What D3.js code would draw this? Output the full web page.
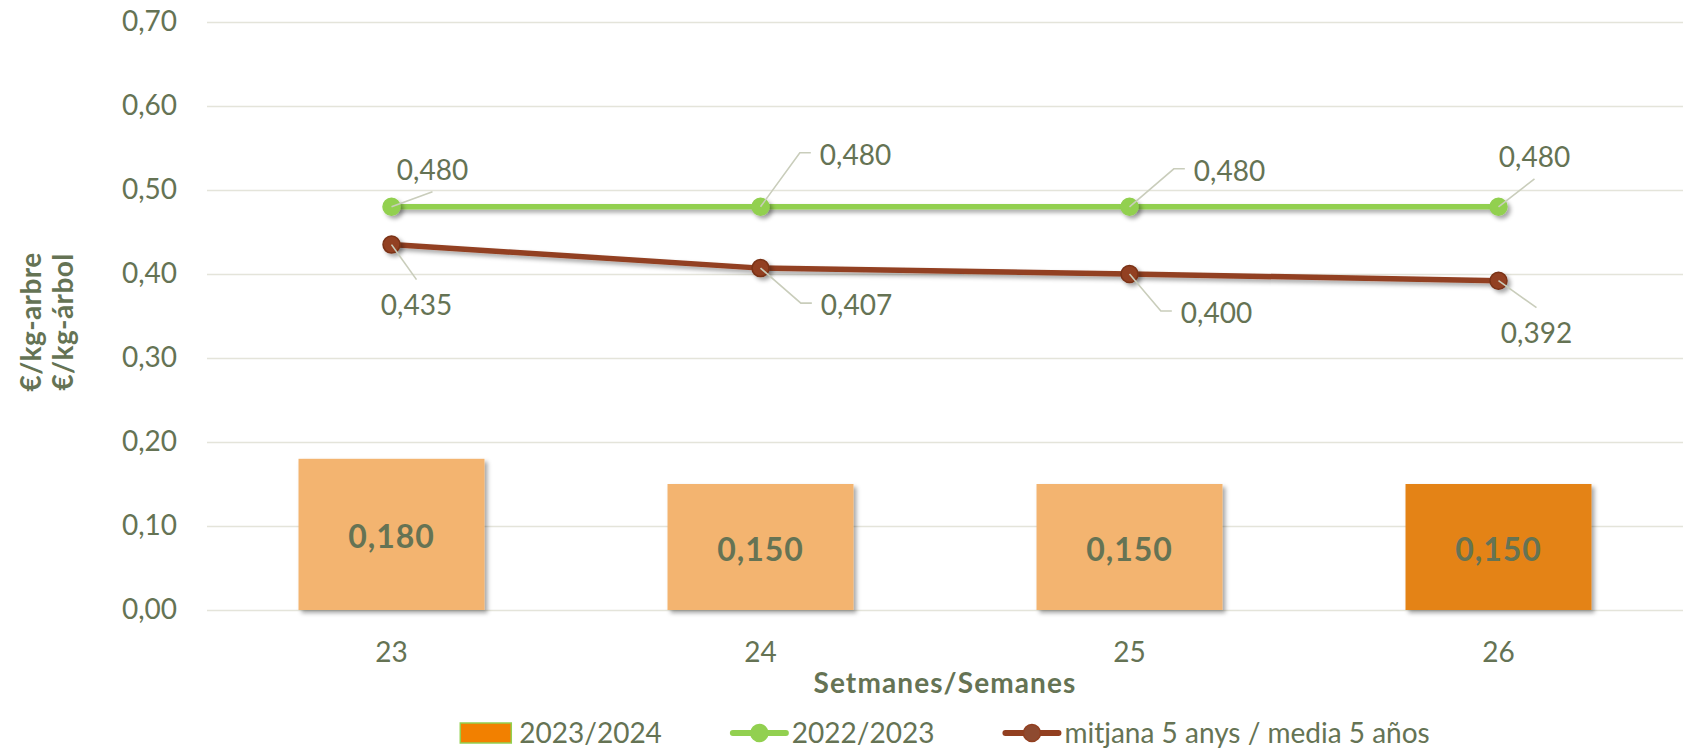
<!DOCTYPE html>
<html lang="ca">
<head>
  <meta charset="utf-8" />
  <title>Preu €/kg-arbre · setmanes 23-26</title>
  <style>
    html,body{margin:0;padding:0;background:#fff;}
    svg{display:block;font-family:Lato,"Open Sans",sans-serif;}
    .txt{fill:#657354;}
    .grid line{stroke:#E4E4DA;stroke-width:1.5;}
  </style>
</head>
<body>
  <svg id="chart" width="1688" height="751"></svg>

  <script src="https://d3js.org/d3.v7.min.js"></script>
  <script>
    // ————— DATA —————
    const weeks       = ['23','24','25','26'];
    const season2324  = [0.180, 0.150, 0.150, 0.150];   // bars
    const season2223  = [0.480, 0.480, 0.480, 0.480];   // green line
    const avg5years   = [0.435, 0.407, 0.400, 0.392];   // brown line
    const yTicks      = [0, 0.1, 0.2, 0.3, 0.4, 0.5, 0.6, 0.7];
    const legendNames = ['2023/2024', '2022/2023', 'mitjana 5 anys / media 5 años'];

    // label placement (offset of label centre from its point), layout only
    const greenLabelOff = [[41,-37],[95,-52],[100,-36],[36,-50]];
    const brownLabelOff = [[25,60],[96,37],[87,39],[38,52]];

    // ————— SETUP —————
    const W=1688, H=751;
    const m={top:22,right:5,bottom:141,left:207};
    const svg=d3.select('#chart');
    const fmt=(v,d)=>v.toFixed(d).replace('.',',');

    // shadow in user space so flat (zero-height) paths keep it
    const defs=svg.append('defs');
    const sh=defs.append('filter').attr('id','shadow').attr('filterUnits','userSpaceOnUse')
      .attr('x',0).attr('y',0).attr('width',W).attr('height',H);
    sh.append('feDropShadow').attr('dx',3).attr('dy',3).attr('stdDeviation',2.2).attr('flood-color','#000').attr('flood-opacity',.35);

    const x=d3.scaleBand().domain(weeks).range([m.left,W-m.right]).paddingInner(0.496).paddingOuter(0.248);
    const y=d3.scaleLinear().domain([0,0.7]).range([H-m.bottom,m.top]);
    const cx=w=>x(w)+x.bandwidth()/2;

    // gridlines + y labels
    const yAx=svg.append('g').attr('class','grid').attr('transform',`translate(${m.left},0)`)
      .call(d3.axisLeft(y).tickValues(yTicks).tickFormat(d=>fmt(d,2)).tickSizeInner(-(W-m.right-m.left)).tickSizeOuter(0).tickPadding(30));
    yAx.select('.domain').remove();
    yAx.selectAll('text').attr('class','txt').style('font-size','28px').style('font-family','Lato');

    // x labels
    const xAx=svg.append('g').attr('transform',`translate(0,${y(0)})`)
      .call(d3.axisBottom(x).tickSize(0).tickPadding(32));
    xAx.select('.domain').remove();
    xAx.selectAll('text').attr('class','txt').style('font-size','28px').style('font-family','Lato');

    // ————— BARS —————
    const bars=svg.append('g');
    bars.selectAll('rect').data(weeks).join('rect')
      .attr('x',d=>x(d)).attr('width',x.bandwidth())
      .attr('y',(d,i)=>y(season2324[i])).attr('height',(d,i)=>y(0)-y(season2324[i]))
      .attr('fill',(d,i)=>i===weeks.length-1?'#E48312':'#F3B46F')
      .attr('filter','url(#shadow)');
    bars.selectAll('text').data(weeks).join('text')
      .attr('class','txt').attr('text-anchor','middle')
      .attr('x',d=>cx(d)).attr('y',(d,i)=>(y(season2324[i])+y(0))/2+2).attr('dy','0.36em')
      .style('font-size','32px').style('font-weight','700').style('letter-spacing','1px')
      .text((d,i)=>fmt(season2324[i],3));

    // ————— LINES —————
    const series=[
      {vals:avg5years, col:'#923F20', stroke:'#7A3319', off:brownLabelOff},
      {vals:season2223,col:'#92D050', stroke:'#92D050', off:greenLabelOff}
    ];
    const line=d3.line().x((d,i)=>cx(weeks[i])).y(d=>y(d));
    series.forEach(s=>{
      const g=svg.append('g');
      g.append('path').datum(s.vals).attr('d',line).attr('fill','none')
        .attr('stroke',s.col).attr('stroke-width',5.5).attr('filter','url(#shadow)');
      g.selectAll('circle').data(s.vals).join('circle')
        .attr('cx',(d,i)=>cx(weeks[i])).attr('cy',d=>y(d)).attr('r',8.5)
        .attr('fill',s.col).attr('stroke',s.stroke).attr('stroke-width',1.5).attr('filter','url(#shadow)');
    });

    // ————— DATA LABELS + LEADERS —————
    const leaders=svg.append('g');
    const labels=svg.append('g');
    series.forEach(s=>{
      s.vals.forEach((v,i)=>{
        const px=cx(weeks[i]), py=y(v);
        const lx=px+s.off[i][0], ly=py+s.off[i][1];
        const t=labels.append('text').attr('class','txt').attr('text-anchor','middle')
          .attr('x',lx).attr('y',ly).attr('dy','0.36em').style('font-size','28px').text(fmt(v,3));
        const tw=t.node().getComputedTextLength();
        let pts;
        if(s.off[i][0]>60){
          const left=lx-tw/2;
          pts=[[px,py],[left-20,ly-2],[left-9,ly-2]];
        }else{
          pts=[[px,py],[lx,ly+(s.off[i][1]<0?22:-25)]];
        }
        leaders.append('path').attr('d',d3.line()(pts)).attr('fill','none')
          .attr('stroke','#C9CDBB').attr('stroke-width',1.6);
      });
    });

    // ————— AXIS TITLES —————
    svg.append('text').attr('class','txt').attr('text-anchor','middle')
      .attr('x',(m.left+W-m.right)/2).attr('y',683).attr('dy','0.36em')
      .style('font-size','28px').style('font-weight','700').style('letter-spacing','1.1px').text('Setmanes/Semanes');
    const yt=svg.append('g').attr('transform','translate(0,322) rotate(-90)');
    yt.append('text').attr('class','txt').attr('text-anchor','middle').attr('x',0).attr('y',31).attr('dy','0.36em')
      .style('font-size','28px').style('font-weight','700').style('letter-spacing','0.4px').text('€/kg-arbre');
    yt.append('text').attr('class','txt').attr('text-anchor','middle').attr('x',0).attr('y',63).attr('dy','0.36em')
      .style('font-size','28px').style('font-weight','700').style('letter-spacing','0.4px').text('€/kg-árbol');

    // ————— LEGEND —————
    const leg=svg.append('g');
    const ly0=733, symW=53, gapT=6, gapItem=71;
    const items=legendNames.map((n,i)=>{
      const g=leg.append('g');
      if(i===0){
        g.append('rect').attr('x',0).attr('y',ly0-10).attr('width',symW-2).attr('height',20)
          .attr('fill','#F28000').attr('stroke','#92D050').attr('stroke-width',1.5);
      }else{
        const c=i===1?'#92D050':'#923F20';
        g.append('line').attr('x1',0).attr('x2',symW).attr('y1',ly0).attr('y2',ly0)
          .attr('stroke',c).attr('stroke-width',6).attr('stroke-linecap','round');
        g.append('circle').attr('cx',symW/2).attr('cy',ly0).attr('r',8.5)
          .attr('fill',i===1?c:'#8E4A30').attr('stroke',c).attr('stroke-width',1.5);
      }
      const t=g.append('text').attr('class','txt').attr('x',symW+gapT).attr('y',ly0).attr('dy','0.36em')
        .style('font-size','28px').text(n);
      return {g,w:symW+gapT+t.node().getComputedTextLength()};
    });
    const total=d3.sum(items,d=>d.w)+gapItem*(items.length-1);
    let xx=(m.left+W-m.right)/2-total/2;
    items.forEach(it=>{it.g.attr('transform',`translate(${xx},0)`);xx+=it.w+gapItem;});
  </script>
</body>
</html>
